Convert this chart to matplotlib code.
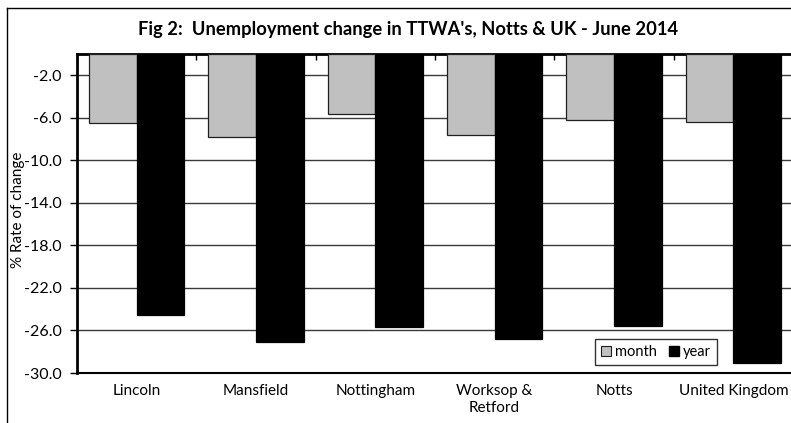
import matplotlib
matplotlib.use("Agg")
import matplotlib.pyplot as plt
import numpy as np
from matplotlib.lines import Line2D
from matplotlib.patches import Patch

plt.rcParams['font.family'] = ['Lato', 'DejaVu Sans']

# data
categories = ['Lincoln', 'Mansfield', 'Nottingham', 'Worksop &\nRetford', 'Notts', 'United Kingdom']
month = [-6.5, -7.8, -5.6, -7.6, -6.2, -6.4]
year = [-24.5, -27.1, -25.7, -26.8, -25.6, -29.1]
yticks = [-30, -26, -22, -18, -14, -10, -6, -2]

fig = plt.figure(figsize=(7.91, 4.23), dpi=100)
ax = fig.add_axes([77 / 791, 50 / 423, 716 / 791, 319 / 423])

x = np.arange(len(categories))
w = 0.4
ax.bar(x - w / 2, month, w, color='#c0c0c0', edgecolor='#202020', linewidth=0.9, label='month', zorder=3)
ax.bar(x + w / 2, year, w, color='black', edgecolor='black', linewidth=0.9, label='year', zorder=3)

ax.set_xlim(-0.5, len(categories) - 0.5)
ax.set_ylim(-30, 0)
ax.set_yticks(yticks)
ax.set_yticklabels([f'{v:.1f}' for v in yticks])
for v in yticks[1:]:
    ax.axhline(v, color='#3a3a3a', linewidth=1.0, zorder=1)

ax.set_xticks(x)
ax.set_xticklabels(categories, linespacing=1.25)
ax.set_xticks(np.arange(-0.5, len(categories)), minor=True)
ax.tick_params(axis='x', which='major', length=0, pad=8, labelsize=11)
ax.tick_params(axis='x', which='minor', bottom=False, top=True, direction='in', length=4, width=1)
ax.tick_params(axis='y', direction='out', length=5, width=1, labelsize=11.5, pad=6)

for side in ['left', 'top']:
    ax.spines[side].set_linewidth(2)
ax.spines['bottom'].set_linewidth(1.5)
ax.spines['right'].set_visible(False)

ax.set_ylabel('% Rate of change', fontsize=11)
ax.yaxis.set_label_coords(-0.072, 0.51)

handles = [Patch(facecolor='#c0c0c0', edgecolor='#202020', linewidth=0.8),
           Patch(facecolor='black', edgecolor='black')]
leg = ax.legend(handles, ['month', 'year'], ncol=2, loc='lower right',
                bbox_to_anchor=(0.894, 0.025), fontsize=10.5, frameon=True, fancybox=False,
                handlelength=0.7, handleheight=0.7, handletextpad=0.3, columnspacing=0.8,
                borderpad=0.4, borderaxespad=0)
leg.get_frame().set_edgecolor('black')
leg.get_frame().set_linewidth(1)

fig.text(408 / 791, 1 - 30 / 423, "Fig 2:  Unemployment change in TTWA's, Notts & UK - June 2014",
         ha='center', va='center', fontsize=13.2, fontweight='bold')

# outer chart border (cropped on the right and bottom)
fig.add_artist(Line2D([7 / 791, 7 / 791], [0, 1 - 8 / 423], color='black', linewidth=1))
fig.add_artist(Line2D([7 / 791, 1], [1 - 8 / 423, 1 - 8 / 423], color='black', linewidth=1))

fig.savefig('out.png', dpi=100)
